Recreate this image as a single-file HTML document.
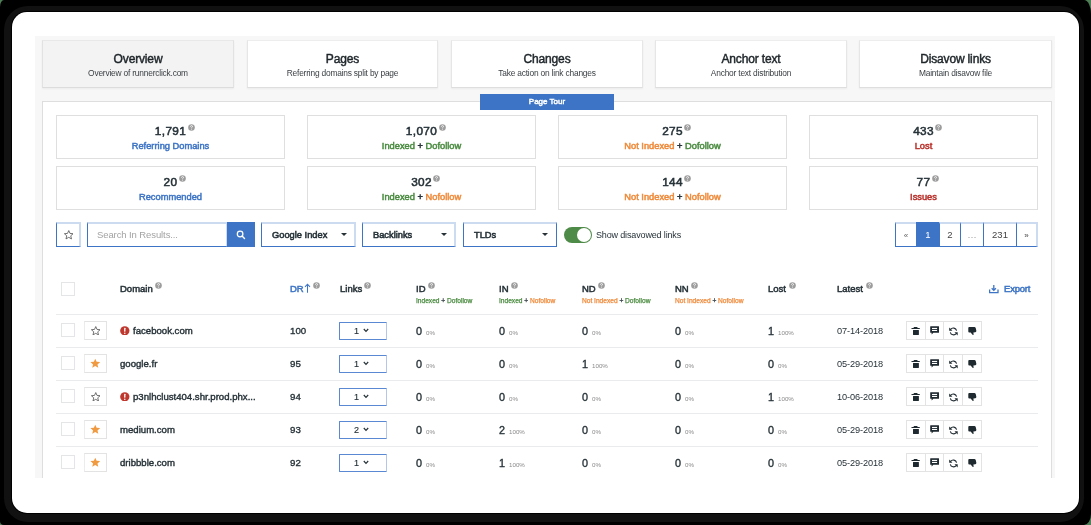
<!DOCTYPE html>
<html><head><meta charset="utf-8"><style>
*{box-sizing:border-box;margin:0;padding:0}
html,body{width:1091px;height:525px;overflow:hidden;background:#000;font-family:"Liberation Sans",sans-serif;color:#263238}
#green{position:absolute;left:0;top:0;width:1091px;height:525px;background:#4f7f57}
#outer{position:absolute;left:0;top:0;width:1091px;height:525px;background:#000;border-top-left-radius:4px 7px;border-top-right-radius:7px 14px;border-bottom-right-radius:7px 11px;border-bottom-left-radius:4px 4px}
#ring{position:absolute;left:4px;top:6px;width:1080px;height:516px;background:#111;border-radius:24px}
#blk{position:absolute;left:11px;top:11px;width:1069px;height:503px;background:#000;border-radius:16px}
#screen{position:absolute;left:12px;top:12px;width:1067px;height:501px;background:#fff;border-radius:15px}
#clip{position:absolute;left:0;top:0;width:1091px;height:525px;clip-path:inset(36px 36px 47px 35px);will-change:transform}
#panel{position:absolute;left:35px;top:36px;width:1020px;height:442px;background:#f7f7f7}
.tab{position:absolute;top:40px;height:48px;background:#fff;border:1px solid #e6e6e6;border-top-color:#ededed;border-bottom-color:#dedede;text-align:center;box-shadow:0 1px 2px rgba(0,0,0,0.05)}
.tab.active{background:#f3f3f3;border-color:#e2e2e2;border-top-color:#e8e8e8;border-bottom-color:#dcdcdc}
.tab b{display:block;font-size:12px;font-weight:normal;-webkit-text-stroke-width:0.45px;line-height:14px;margin-top:11px;letter-spacing:-0.15px;color:#1e2529}
.tab span{display:block;font-size:8.4px;line-height:11px;margin-top:1.5px;letter-spacing:-0.2px;color:#3a3f43}
#content{position:absolute;left:42px;top:101px;width:1010px;height:420px;background:#fff;border:1px solid #dedede}
#tour{position:absolute;left:480px;top:94px;width:134px;height:16px;background:#3d74c5;color:#fff;font-size:8px;font-weight:normal;-webkit-text-stroke-width:0.45px;text-align:center;line-height:16px;letter-spacing:0}
.card{position:absolute;width:229px;height:44px;border:1px solid #dfdfdf;background:#fff;text-align:center}
.card .n{position:absolute;left:0;right:0;top:8px;font-size:11.8px;font-weight:normal;-webkit-text-stroke-width:0.55px;line-height:14px;color:#263238;letter-spacing:0.35px}
.card .l{position:absolute;left:0;right:0;top:24px;font-size:9.3px;font-weight:normal;-webkit-text-stroke-width:0.5px;line-height:12px;letter-spacing:0}
.q{position:absolute;width:7px;height:7px}
.a{position:absolute;white-space:nowrap}
.bb{position:absolute;border:1px solid #3d74c5;border-top:2px solid #cddbf1;border-right:2px solid #cddbf1;background:#fff}
.sel{font-size:9.3px;font-weight:normal;-webkit-text-stroke-width:0.55px;line-height:22px;padding-left:10px;letter-spacing:0;color:#263238}
.caret{position:absolute;width:0;height:0;border-left:3px solid transparent;border-right:3px solid transparent;border-top:3px solid #263238}
.pg{position:absolute;top:222px;height:25px;text-align:center;font-size:9.5px;line-height:22px;color:#444;border-top:2px solid #cddbf1;border-bottom:1px solid #3d74c5;border-left:1px solid #3d74c5;background:#fff}
.hd{font-size:9.5px;font-weight:normal;-webkit-text-stroke-width:0.5px;line-height:11px;letter-spacing:0;color:#263238}
.sub{font-size:6.6px;line-height:8px;letter-spacing:0;-webkit-text-stroke-width:0.25px}
.hl{position:absolute;left:56px;width:982px;height:1px;background:#eaebec}
.cb{position:absolute;width:14px;height:14px;border:1px solid #e4e5e6;background:#fff}
.sb{position:absolute;width:23px;height:19px;border:1px solid #e3e3e3;border-left-color:#ececec;background:#fff}
.dom{font-size:9.6px;font-weight:normal;-webkit-text-stroke-width:0.4px;line-height:12px;letter-spacing:0;color:#263238}
.num{font-size:9.7px;font-weight:normal;-webkit-text-stroke-width:0.35px;line-height:12px;color:#263238}
.big{font-size:10.8px;font-weight:normal;-webkit-text-stroke-width:0.35px;line-height:12px;color:#263238}
.pct{font-size:6.2px;line-height:8px;color:#8a8a8a;-webkit-text-stroke-width:0}
.date{font-size:9.2px;line-height:12px;color:#263238;letter-spacing:-0.1px}
.lk{position:absolute;width:48px;height:18px;border:1px solid #5a88d2;border-right-color:#b3c7e9;border-radius:1px;background:#fff}
.act{position:absolute;height:19px;border:1px solid #e3e3e3;border-right:none;background:#fff}
.blue{color:#3d74c5}.grn{color:#4a8b40}.org{color:#ef8a3a}.red{color:#b9312b}.dk{color:#263238}
</style></head><body>
<div id="green"></div><div id="outer"></div><div id="ring"></div><div id="blk"></div><div id="screen"></div>
<div id="clip">
<div id="panel"></div>
<div class="tab active" style="left:42px;width:192px"><b>Overview</b><span>Overview of runnerclick.com</span></div>
<div class="tab" style="left:247px;width:191px"><b>Pages</b><span>Referring domains split by page</span></div>
<div class="tab" style="left:451px;width:192px"><b>Changes</b><span>Take action on link changes</span></div>
<div class="tab" style="left:655px;width:192px"><b>Anchor text</b><span>Anchor text distribution</span></div>
<div class="tab" style="left:859px;width:193px"><b>Disavow links</b><span>Maintain disavow file</span></div>
<div id="content"></div>
<div id="tour">Page Tour</div>
<div class="card" style="left:56px;top:115px"><div class="n"><span style="position:relative">1,791<i class="q" style="right:-8.6px;top:0px"><svg width="7" height="7" viewBox="0 0 7 7" style="display:block"><circle cx="3.5" cy="3.5" r="3.3" fill="#9d9d9d"/><path d="M2.5 2.7Q2.5 1.6 3.5 1.6Q4.5 1.6 4.5 2.5Q4.5 3.1 3.6 3.6V4.3" fill="none" stroke="#fff" stroke-width="0.8"/><circle cx="3.6" cy="5.3" r="0.45" fill="#fff"/></svg></i></span></div><div class="l"><span class="blue">Referring Domains</span></div></div>
<div class="card" style="left:307px;top:115px"><div class="n"><span style="position:relative">1,070<i class="q" style="right:-8.6px;top:0px"><svg width="7" height="7" viewBox="0 0 7 7" style="display:block"><circle cx="3.5" cy="3.5" r="3.3" fill="#9d9d9d"/><path d="M2.5 2.7Q2.5 1.6 3.5 1.6Q4.5 1.6 4.5 2.5Q4.5 3.1 3.6 3.6V4.3" fill="none" stroke="#fff" stroke-width="0.8"/><circle cx="3.6" cy="5.3" r="0.45" fill="#fff"/></svg></i></span></div><div class="l"><span class="grn">Indexed</span> <span class="dk">+</span> <span class="grn">Dofollow</span></div></div>
<div class="card" style="left:558px;top:115px"><div class="n"><span style="position:relative">275<i class="q" style="right:-8.6px;top:0px"><svg width="7" height="7" viewBox="0 0 7 7" style="display:block"><circle cx="3.5" cy="3.5" r="3.3" fill="#9d9d9d"/><path d="M2.5 2.7Q2.5 1.6 3.5 1.6Q4.5 1.6 4.5 2.5Q4.5 3.1 3.6 3.6V4.3" fill="none" stroke="#fff" stroke-width="0.8"/><circle cx="3.6" cy="5.3" r="0.45" fill="#fff"/></svg></i></span></div><div class="l"><span class="org">Not Indexed</span> <span class="dk">+</span> <span class="grn">Dofollow</span></div></div>
<div class="card" style="left:809px;top:115px"><div class="n"><span style="position:relative">433<i class="q" style="right:-8.6px;top:0px"><svg width="7" height="7" viewBox="0 0 7 7" style="display:block"><circle cx="3.5" cy="3.5" r="3.3" fill="#9d9d9d"/><path d="M2.5 2.7Q2.5 1.6 3.5 1.6Q4.5 1.6 4.5 2.5Q4.5 3.1 3.6 3.6V4.3" fill="none" stroke="#fff" stroke-width="0.8"/><circle cx="3.6" cy="5.3" r="0.45" fill="#fff"/></svg></i></span></div><div class="l"><span class="red">Lost</span></div></div>
<div class="card" style="left:56px;top:166px"><div class="n"><span style="position:relative">20<i class="q" style="right:-8.6px;top:0px"><svg width="7" height="7" viewBox="0 0 7 7" style="display:block"><circle cx="3.5" cy="3.5" r="3.3" fill="#9d9d9d"/><path d="M2.5 2.7Q2.5 1.6 3.5 1.6Q4.5 1.6 4.5 2.5Q4.5 3.1 3.6 3.6V4.3" fill="none" stroke="#fff" stroke-width="0.8"/><circle cx="3.6" cy="5.3" r="0.45" fill="#fff"/></svg></i></span></div><div class="l"><span class="blue">Recommended</span></div></div>
<div class="card" style="left:307px;top:166px"><div class="n"><span style="position:relative">302<i class="q" style="right:-8.6px;top:0px"><svg width="7" height="7" viewBox="0 0 7 7" style="display:block"><circle cx="3.5" cy="3.5" r="3.3" fill="#9d9d9d"/><path d="M2.5 2.7Q2.5 1.6 3.5 1.6Q4.5 1.6 4.5 2.5Q4.5 3.1 3.6 3.6V4.3" fill="none" stroke="#fff" stroke-width="0.8"/><circle cx="3.6" cy="5.3" r="0.45" fill="#fff"/></svg></i></span></div><div class="l"><span class="grn">Indexed</span> <span class="dk">+</span> <span class="org">Nofollow</span></div></div>
<div class="card" style="left:558px;top:166px"><div class="n"><span style="position:relative">144<i class="q" style="right:-8.6px;top:0px"><svg width="7" height="7" viewBox="0 0 7 7" style="display:block"><circle cx="3.5" cy="3.5" r="3.3" fill="#9d9d9d"/><path d="M2.5 2.7Q2.5 1.6 3.5 1.6Q4.5 1.6 4.5 2.5Q4.5 3.1 3.6 3.6V4.3" fill="none" stroke="#fff" stroke-width="0.8"/><circle cx="3.6" cy="5.3" r="0.45" fill="#fff"/></svg></i></span></div><div class="l"><span class="org">Not Indexed</span> <span class="dk">+</span> <span class="org">Nofollow</span></div></div>
<div class="card" style="left:809px;top:166px"><div class="n"><span style="position:relative">77<i class="q" style="right:-8.6px;top:0px"><svg width="7" height="7" viewBox="0 0 7 7" style="display:block"><circle cx="3.5" cy="3.5" r="3.3" fill="#9d9d9d"/><path d="M2.5 2.7Q2.5 1.6 3.5 1.6Q4.5 1.6 4.5 2.5Q4.5 3.1 3.6 3.6V4.3" fill="none" stroke="#fff" stroke-width="0.8"/><circle cx="3.6" cy="5.3" r="0.45" fill="#fff"/></svg></i></span></div><div class="l"><span class="red">Issues</span></div></div>
<div class="bb" style="left:56px;top:222px;width:25px;height:25px"></div>
<svg class="a" style="left:63.5px;top:230px" width="9.5" height="9.5" viewBox="0 0 10 10"><polygon points="5,0.6 6.3,3.6 9.6,3.9 7.1,6.1 7.9,9.4 5,7.7 2.1,9.4 2.9,6.1 0.4,3.9 3.7,3.6" fill="none" stroke="#5a5a5a" stroke-width="0.9" stroke-linejoin="round"/></svg>
<div class="bb" style="left:87px;top:222px;width:141px;height:25px"></div>
<div class="a" style="left:97px;top:229px;font-size:9.5px;line-height:12px;color:#a3a3a3;letter-spacing:-0.1px">Search In Results...</div>
<div class="a" style="left:227px;top:222px;width:28px;height:25px;background:#3d74c5"></div>
<svg class="a" style="left:236px;top:230px" width="10" height="10" viewBox="0 0 10 10"><circle cx="4.1" cy="4" r="2.8" fill="none" stroke="#fff" stroke-width="1.25"/><line x1="6.1" y1="6" x2="8.5" y2="8.4" stroke="#fff" stroke-width="1.4" stroke-linecap="round"/></svg>
<div class="bb sel" style="left:261px;top:222px;width:95px;height:25px;">Google Index</div>
<div class="caret" style="left:341px;top:233px"></div>
<div class="bb sel" style="left:362px;top:222px;width:94px;height:25px;">Backlinks</div>
<div class="caret" style="left:441px;top:233px"></div>
<div class="bb sel" style="left:463px;top:222px;width:94px;height:25px;border-right:1px solid #3d74c5;">TLDs</div>
<div class="caret" style="left:542px;top:233px"></div>
<div class="a" style="left:564px;top:227px;width:28px;height:16px;border-radius:8px;background:#4e8a48"></div>
<div class="a" style="left:577px;top:228px;width:14px;height:14px;border-radius:50%;background:#fff"></div>
<div class="a" style="left:596px;top:229px;font-size:9px;line-height:12px;letter-spacing:-0.15px;color:#263238">Show disavowed links</div>
<div class="pg" style="left:895px;width:21px;"><span style="font-size:8px;color:#666">&laquo;</span></div>
<div class="pg" style="left:916px;width:23px;background:#3d74c5;color:#fff;border-top-color:#3d74c5;">1</div>
<div class="pg" style="left:939px;width:21px;">2</div>
<div class="pg" style="left:960px;width:23px;"><span style="color:#999">&hellip;</span></div>
<div class="pg" style="left:983px;width:33px;">231</div>
<div class="pg" style="left:1016px;width:22px;border-right:2px solid #cddbf1;"><span style="font-size:8px;color:#444">&raquo;</span></div>
<div class="cb" style="left:61px;top:282px"></div>
<div class="a hd" style="left:120px;top:283px">Domain</div><i class="q" style="left:155px;top:281.5px"><svg width="7" height="7" viewBox="0 0 7 7" style="display:block"><circle cx="3.5" cy="3.5" r="3.3" fill="#9d9d9d"/><path d="M2.5 2.7Q2.5 1.6 3.5 1.6Q4.5 1.6 4.5 2.5Q4.5 3.1 3.6 3.6V4.3" fill="none" stroke="#fff" stroke-width="0.8"/><circle cx="3.6" cy="5.3" r="0.45" fill="#fff"/></svg></i>
<div class="a hd blue" style="left:290px;top:283px">DR</div>
<svg class="a" style="left:304px;top:283px" width="7" height="10" viewBox="0 0 7 10"><path d="M3.5 9.7V1.4M1 3.9L3.5 1.2L6 3.9" fill="none" stroke="#3d74c5" stroke-width="1.05"/></svg><i class="q" style="left:313px;top:281.5px"><svg width="7" height="7" viewBox="0 0 7 7" style="display:block"><circle cx="3.5" cy="3.5" r="3.3" fill="#9d9d9d"/><path d="M2.5 2.7Q2.5 1.6 3.5 1.6Q4.5 1.6 4.5 2.5Q4.5 3.1 3.6 3.6V4.3" fill="none" stroke="#fff" stroke-width="0.8"/><circle cx="3.6" cy="5.3" r="0.45" fill="#fff"/></svg></i>
<div class="a hd" style="left:340px;top:283px">Links</div><i class="q" style="left:364.3px;top:281.5px"><svg width="7" height="7" viewBox="0 0 7 7" style="display:block"><circle cx="3.5" cy="3.5" r="3.3" fill="#9d9d9d"/><path d="M2.5 2.7Q2.5 1.6 3.5 1.6Q4.5 1.6 4.5 2.5Q4.5 3.1 3.6 3.6V4.3" fill="none" stroke="#fff" stroke-width="0.8"/><circle cx="3.6" cy="5.3" r="0.45" fill="#fff"/></svg></i>
<div class="a hd" style="left:416px;top:283px">ID<i class="q" style="position:relative;display:inline-block;left:2.5px;top:-3.5px"><svg width="7" height="7" viewBox="0 0 7 7" style="display:block"><circle cx="3.5" cy="3.5" r="3.3" fill="#9d9d9d"/><path d="M2.5 2.7Q2.5 1.6 3.5 1.6Q4.5 1.6 4.5 2.5Q4.5 3.1 3.6 3.6V4.3" fill="none" stroke="#fff" stroke-width="0.8"/><circle cx="3.6" cy="5.3" r="0.45" fill="#fff"/></svg></i></div>
<div class="a sub" style="left:416px;top:296.5px"><span class="grn">Indexed</span> <span class="dk">+</span> <span class="grn">Dofollow</span></div>
<div class="a hd" style="left:499px;top:283px">IN<i class="q" style="position:relative;display:inline-block;left:2.5px;top:-3.5px"><svg width="7" height="7" viewBox="0 0 7 7" style="display:block"><circle cx="3.5" cy="3.5" r="3.3" fill="#9d9d9d"/><path d="M2.5 2.7Q2.5 1.6 3.5 1.6Q4.5 1.6 4.5 2.5Q4.5 3.1 3.6 3.6V4.3" fill="none" stroke="#fff" stroke-width="0.8"/><circle cx="3.6" cy="5.3" r="0.45" fill="#fff"/></svg></i></div>
<div class="a sub" style="left:499px;top:296.5px"><span class="grn">Indexed</span> <span class="dk">+</span> <span class="org">Nofollow</span></div>
<div class="a hd" style="left:582px;top:283px">ND<i class="q" style="position:relative;display:inline-block;left:2.5px;top:-3.5px"><svg width="7" height="7" viewBox="0 0 7 7" style="display:block"><circle cx="3.5" cy="3.5" r="3.3" fill="#9d9d9d"/><path d="M2.5 2.7Q2.5 1.6 3.5 1.6Q4.5 1.6 4.5 2.5Q4.5 3.1 3.6 3.6V4.3" fill="none" stroke="#fff" stroke-width="0.8"/><circle cx="3.6" cy="5.3" r="0.45" fill="#fff"/></svg></i></div>
<div class="a sub" style="left:582px;top:296.5px"><span class="org">Not Indexed</span> <span class="dk">+</span> <span class="grn">Dofollow</span></div>
<div class="a hd" style="left:675px;top:283px">NN<i class="q" style="position:relative;display:inline-block;left:2.5px;top:-3.5px"><svg width="7" height="7" viewBox="0 0 7 7" style="display:block"><circle cx="3.5" cy="3.5" r="3.3" fill="#9d9d9d"/><path d="M2.5 2.7Q2.5 1.6 3.5 1.6Q4.5 1.6 4.5 2.5Q4.5 3.1 3.6 3.6V4.3" fill="none" stroke="#fff" stroke-width="0.8"/><circle cx="3.6" cy="5.3" r="0.45" fill="#fff"/></svg></i></div>
<div class="a sub" style="left:675px;top:296.5px"><span class="org">Not Indexed</span> <span class="dk">+</span> <span class="org">Nofollow</span></div>
<div class="a hd" style="left:768px;top:283px">Lost</div><i class="q" style="left:788.7px;top:281.5px"><svg width="7" height="7" viewBox="0 0 7 7" style="display:block"><circle cx="3.5" cy="3.5" r="3.3" fill="#9d9d9d"/><path d="M2.5 2.7Q2.5 1.6 3.5 1.6Q4.5 1.6 4.5 2.5Q4.5 3.1 3.6 3.6V4.3" fill="none" stroke="#fff" stroke-width="0.8"/><circle cx="3.6" cy="5.3" r="0.45" fill="#fff"/></svg></i>
<div class="a hd" style="left:837px;top:283px">Latest</div><i class="q" style="left:866px;top:281.5px"><svg width="7" height="7" viewBox="0 0 7 7" style="display:block"><circle cx="3.5" cy="3.5" r="3.3" fill="#9d9d9d"/><path d="M2.5 2.7Q2.5 1.6 3.5 1.6Q4.5 1.6 4.5 2.5Q4.5 3.1 3.6 3.6V4.3" fill="none" stroke="#fff" stroke-width="0.8"/><circle cx="3.6" cy="5.3" r="0.45" fill="#fff"/></svg></i>
<svg class="a" style="left:988.5px;top:285px" width="10" height="8.5" viewBox="0 0 10 8.5"><path d="M4.8 0V5.3M2.7 3.2L4.8 5.4L6.9 3.2" fill="none" stroke="#3d74c5" stroke-width="1.3"/><path d="M0.6 4.6V7.7H9V4.6" fill="none" stroke="#3d74c5" stroke-width="1.3"/></svg>
<div class="a hd blue" style="left:1004px;top:283px;letter-spacing:-0.2px;-webkit-text-stroke-width:0.5px">Export</div>
<div class="hl" style="top:314px"></div>
<div class="cb" style="left:61px;top:323px"></div>
<div class="sb" style="left:84px;top:321px"></div>
<svg class="a" style="left:90.5px;top:325.5px" width="9.5" height="9.5" viewBox="0 0 10 10"><polygon points="5,0.6 6.3,3.6 9.6,3.9 7.1,6.1 7.9,9.4 5,7.7 2.1,9.4 2.9,6.1 0.4,3.9 3.7,3.6" fill="none" stroke="#5a5a5a" stroke-width="0.9" stroke-linejoin="round"/></svg>
<svg class="a" style="left:120px;top:325.5px" width="9.6" height="9.6" viewBox="0 0 10 10"><circle cx="5" cy="5" r="4.85" fill="#c0372e"/><rect x="4.3" y="1.9" width="1.4" height="4.2" rx="0.5" fill="#fff"/><circle cx="5" cy="7.6" r="0.8" fill="#fff"/></svg>
<div class="a dom" style="left:133px;top:325px">facebook.com</div>
<div class="a num" style="left:290px;top:325px">100</div>
<div class="lk" style="left:339px;top:322px"></div>
<div class="a num" style="left:354px;top:325px;font-size:9px;-webkit-text-stroke-width:0.15px">1</div>
<svg class="a" style="left:363px;top:328px" width="6" height="5" viewBox="0 0 6 5"><path d="M0.8 1L3 3.3L5.2 1" fill="none" stroke="#263238" stroke-width="1.2"/></svg>
<div class="a big" style="left:416px;top:325px">0<span class="pct" style="margin-left:4px">0%</span></div>
<div class="a big" style="left:499px;top:325px">0<span class="pct" style="margin-left:4px">0%</span></div>
<div class="a big" style="left:582px;top:325px">0<span class="pct" style="margin-left:4px">0%</span></div>
<div class="a big" style="left:675px;top:325px">0<span class="pct" style="margin-left:4px">0%</span></div>
<div class="a big" style="left:768px;top:325px">1<span class="pct" style="margin-left:4px">100%</span></div>
<div class="a date" style="left:837px;top:325px">07-14-2018</div>
<div class="act" style="left:906px;top:321px;width:19px;"></div>
<div class="act" style="left:925px;top:321px;width:18px;"></div>
<div class="act" style="left:943px;top:321px;width:19px;"></div>
<div class="act" style="left:962px;top:321px;width:20px;border-right:1px solid #e3e3e3;"></div>
<svg class="a" style="left:911px;top:326px" width="10" height="10" viewBox="0 0 10 10"><rect x="0.4" y="1.9" width="8.5" height="1.1" rx="0.5" fill="#1f2a30"/><rect x="2.6" y="1.1" width="4" height="1.2" rx="0.6" fill="#1f2a30"/><rect x="2" y="4" width="5.9" height="4.9" rx="0.3" fill="#1f2a30"/></svg>
<svg class="a" style="left:930px;top:326px" width="10" height="10" viewBox="0 0 10 10"><path d="M0.2 0.6Q0.2 0.2 0.6 0.2H8.6Q9 0.2 9 0.6V6.4Q9 6.8 8.6 6.8H3.4L1.6 8.6V6.8H0.6Q0.2 6.8 0.2 6.4Z" fill="#1f2a30"/><rect x="2" y="1.9" width="5.1" height="1.1" fill="#fff"/><rect x="2" y="3.9" width="5.1" height="1.1" fill="#fff"/></svg>
<svg class="a" style="left:949px;top:326.5px" width="9" height="9" viewBox="0 0 9 9"><path d="M7.6 3.6A3.4 3.4 0 0 0 1.6 2.4" fill="none" stroke="#1f2a30" stroke-width="1.1"/><path d="M1.3 5.3A3.4 3.4 0 0 0 7.3 6.5" fill="none" stroke="#1f2a30" stroke-width="1.1"/><path d="M0.2 0.4V3.8H3.4Z" fill="#1f2a30"/><path d="M8.7 8.6V5.2H5.5Z" fill="#1f2a30"/></svg>
<svg class="a" style="left:968px;top:327px" width="9" height="9" viewBox="0 0 9 9"><path d="M0.3 1Q0.3 0.1 1.2 0.1H6.4Q7.4 0.1 7.8 1.2L8.3 3.4Q8.6 4.8 7.3 5.2L5.4 5.4L5.6 7.4Q5.6 8.2 4.8 7.9L2.6 5.6H1.2Q0.3 5.6 0.3 4.6Z" fill="#1f2a30"/></svg>
<div class="hl" style="top:347px"></div>
<div class="cb" style="left:61px;top:356px"></div>
<div class="sb" style="left:84px;top:354px"></div>
<svg class="a" style="left:89.7px;top:358px" width="10.5" height="10.5" viewBox="0 0 10 10"><polygon points="5,0.6 6.3,3.6 9.6,3.9 7.1,6.1 7.9,9.4 5,7.7 2.1,9.4 2.9,6.1 0.4,3.9 3.7,3.6" fill="#f09a42"/></svg>
<div class="a dom" style="left:120px;top:358px">google.fr</div>
<div class="a num" style="left:290px;top:358px">95</div>
<div class="lk" style="left:339px;top:355px"></div>
<div class="a num" style="left:354px;top:358px;font-size:9px;-webkit-text-stroke-width:0.15px">1</div>
<svg class="a" style="left:363px;top:361px" width="6" height="5" viewBox="0 0 6 5"><path d="M0.8 1L3 3.3L5.2 1" fill="none" stroke="#263238" stroke-width="1.2"/></svg>
<div class="a big" style="left:416px;top:358px">0<span class="pct" style="margin-left:4px">0%</span></div>
<div class="a big" style="left:499px;top:358px">0<span class="pct" style="margin-left:4px">0%</span></div>
<div class="a big" style="left:582px;top:358px">1<span class="pct" style="margin-left:4px">100%</span></div>
<div class="a big" style="left:675px;top:358px">0<span class="pct" style="margin-left:4px">0%</span></div>
<div class="a big" style="left:768px;top:358px">0<span class="pct" style="margin-left:4px">0%</span></div>
<div class="a date" style="left:837px;top:358px">05-29-2018</div>
<div class="act" style="left:906px;top:354px;width:19px;"></div>
<div class="act" style="left:925px;top:354px;width:18px;"></div>
<div class="act" style="left:943px;top:354px;width:19px;"></div>
<div class="act" style="left:962px;top:354px;width:20px;border-right:1px solid #e3e3e3;"></div>
<svg class="a" style="left:911px;top:359px" width="10" height="10" viewBox="0 0 10 10"><rect x="0.4" y="1.9" width="8.5" height="1.1" rx="0.5" fill="#1f2a30"/><rect x="2.6" y="1.1" width="4" height="1.2" rx="0.6" fill="#1f2a30"/><rect x="2" y="4" width="5.9" height="4.9" rx="0.3" fill="#1f2a30"/></svg>
<svg class="a" style="left:930px;top:359px" width="10" height="10" viewBox="0 0 10 10"><path d="M0.2 0.6Q0.2 0.2 0.6 0.2H8.6Q9 0.2 9 0.6V6.4Q9 6.8 8.6 6.8H3.4L1.6 8.6V6.8H0.6Q0.2 6.8 0.2 6.4Z" fill="#1f2a30"/><rect x="2" y="1.9" width="5.1" height="1.1" fill="#fff"/><rect x="2" y="3.9" width="5.1" height="1.1" fill="#fff"/></svg>
<svg class="a" style="left:949px;top:359.5px" width="9" height="9" viewBox="0 0 9 9"><path d="M7.6 3.6A3.4 3.4 0 0 0 1.6 2.4" fill="none" stroke="#1f2a30" stroke-width="1.1"/><path d="M1.3 5.3A3.4 3.4 0 0 0 7.3 6.5" fill="none" stroke="#1f2a30" stroke-width="1.1"/><path d="M0.2 0.4V3.8H3.4Z" fill="#1f2a30"/><path d="M8.7 8.6V5.2H5.5Z" fill="#1f2a30"/></svg>
<svg class="a" style="left:968px;top:360px" width="9" height="9" viewBox="0 0 9 9"><path d="M0.3 1Q0.3 0.1 1.2 0.1H6.4Q7.4 0.1 7.8 1.2L8.3 3.4Q8.6 4.8 7.3 5.2L5.4 5.4L5.6 7.4Q5.6 8.2 4.8 7.9L2.6 5.6H1.2Q0.3 5.6 0.3 4.6Z" fill="#1f2a30"/></svg>
<div class="hl" style="top:380px"></div>
<div class="cb" style="left:61px;top:389px"></div>
<div class="sb" style="left:84px;top:387px"></div>
<svg class="a" style="left:90.5px;top:391.5px" width="9.5" height="9.5" viewBox="0 0 10 10"><polygon points="5,0.6 6.3,3.6 9.6,3.9 7.1,6.1 7.9,9.4 5,7.7 2.1,9.4 2.9,6.1 0.4,3.9 3.7,3.6" fill="none" stroke="#5a5a5a" stroke-width="0.9" stroke-linejoin="round"/></svg>
<svg class="a" style="left:120px;top:391.5px" width="9.6" height="9.6" viewBox="0 0 10 10"><circle cx="5" cy="5" r="4.85" fill="#c0372e"/><rect x="4.3" y="1.9" width="1.4" height="4.2" rx="0.5" fill="#fff"/><circle cx="5" cy="7.6" r="0.8" fill="#fff"/></svg>
<div class="a dom" style="left:133px;top:391px">p3nlhclust404.shr.prod.phx...</div>
<div class="a num" style="left:290px;top:391px">94</div>
<div class="lk" style="left:339px;top:388px"></div>
<div class="a num" style="left:354px;top:391px;font-size:9px;-webkit-text-stroke-width:0.15px">1</div>
<svg class="a" style="left:363px;top:394px" width="6" height="5" viewBox="0 0 6 5"><path d="M0.8 1L3 3.3L5.2 1" fill="none" stroke="#263238" stroke-width="1.2"/></svg>
<div class="a big" style="left:416px;top:391px">0<span class="pct" style="margin-left:4px">0%</span></div>
<div class="a big" style="left:499px;top:391px">0<span class="pct" style="margin-left:4px">0%</span></div>
<div class="a big" style="left:582px;top:391px">0<span class="pct" style="margin-left:4px">0%</span></div>
<div class="a big" style="left:675px;top:391px">0<span class="pct" style="margin-left:4px">0%</span></div>
<div class="a big" style="left:768px;top:391px">1<span class="pct" style="margin-left:4px">100%</span></div>
<div class="a date" style="left:837px;top:391px">10-06-2018</div>
<div class="act" style="left:906px;top:387px;width:19px;"></div>
<div class="act" style="left:925px;top:387px;width:18px;"></div>
<div class="act" style="left:943px;top:387px;width:19px;"></div>
<div class="act" style="left:962px;top:387px;width:20px;border-right:1px solid #e3e3e3;"></div>
<svg class="a" style="left:911px;top:392px" width="10" height="10" viewBox="0 0 10 10"><rect x="0.4" y="1.9" width="8.5" height="1.1" rx="0.5" fill="#1f2a30"/><rect x="2.6" y="1.1" width="4" height="1.2" rx="0.6" fill="#1f2a30"/><rect x="2" y="4" width="5.9" height="4.9" rx="0.3" fill="#1f2a30"/></svg>
<svg class="a" style="left:930px;top:392px" width="10" height="10" viewBox="0 0 10 10"><path d="M0.2 0.6Q0.2 0.2 0.6 0.2H8.6Q9 0.2 9 0.6V6.4Q9 6.8 8.6 6.8H3.4L1.6 8.6V6.8H0.6Q0.2 6.8 0.2 6.4Z" fill="#1f2a30"/><rect x="2" y="1.9" width="5.1" height="1.1" fill="#fff"/><rect x="2" y="3.9" width="5.1" height="1.1" fill="#fff"/></svg>
<svg class="a" style="left:949px;top:392.5px" width="9" height="9" viewBox="0 0 9 9"><path d="M7.6 3.6A3.4 3.4 0 0 0 1.6 2.4" fill="none" stroke="#1f2a30" stroke-width="1.1"/><path d="M1.3 5.3A3.4 3.4 0 0 0 7.3 6.5" fill="none" stroke="#1f2a30" stroke-width="1.1"/><path d="M0.2 0.4V3.8H3.4Z" fill="#1f2a30"/><path d="M8.7 8.6V5.2H5.5Z" fill="#1f2a30"/></svg>
<svg class="a" style="left:968px;top:393px" width="9" height="9" viewBox="0 0 9 9"><path d="M0.3 1Q0.3 0.1 1.2 0.1H6.4Q7.4 0.1 7.8 1.2L8.3 3.4Q8.6 4.8 7.3 5.2L5.4 5.4L5.6 7.4Q5.6 8.2 4.8 7.9L2.6 5.6H1.2Q0.3 5.6 0.3 4.6Z" fill="#1f2a30"/></svg>
<div class="hl" style="top:413px"></div>
<div class="cb" style="left:61px;top:422px"></div>
<div class="sb" style="left:84px;top:420px"></div>
<svg class="a" style="left:89.7px;top:424px" width="10.5" height="10.5" viewBox="0 0 10 10"><polygon points="5,0.6 6.3,3.6 9.6,3.9 7.1,6.1 7.9,9.4 5,7.7 2.1,9.4 2.9,6.1 0.4,3.9 3.7,3.6" fill="#f09a42"/></svg>
<div class="a dom" style="left:120px;top:424px">medium.com</div>
<div class="a num" style="left:290px;top:424px">93</div>
<div class="lk" style="left:339px;top:421px"></div>
<div class="a num" style="left:354px;top:424px;font-size:9px;-webkit-text-stroke-width:0.15px">2</div>
<svg class="a" style="left:363px;top:427px" width="6" height="5" viewBox="0 0 6 5"><path d="M0.8 1L3 3.3L5.2 1" fill="none" stroke="#263238" stroke-width="1.2"/></svg>
<div class="a big" style="left:416px;top:424px">0<span class="pct" style="margin-left:4px">0%</span></div>
<div class="a big" style="left:499px;top:424px">2<span class="pct" style="margin-left:4px">100%</span></div>
<div class="a big" style="left:582px;top:424px">0<span class="pct" style="margin-left:4px">0%</span></div>
<div class="a big" style="left:675px;top:424px">0<span class="pct" style="margin-left:4px">0%</span></div>
<div class="a big" style="left:768px;top:424px">0<span class="pct" style="margin-left:4px">0%</span></div>
<div class="a date" style="left:837px;top:424px">05-29-2018</div>
<div class="act" style="left:906px;top:420px;width:19px;"></div>
<div class="act" style="left:925px;top:420px;width:18px;"></div>
<div class="act" style="left:943px;top:420px;width:19px;"></div>
<div class="act" style="left:962px;top:420px;width:20px;border-right:1px solid #e3e3e3;"></div>
<svg class="a" style="left:911px;top:425px" width="10" height="10" viewBox="0 0 10 10"><rect x="0.4" y="1.9" width="8.5" height="1.1" rx="0.5" fill="#1f2a30"/><rect x="2.6" y="1.1" width="4" height="1.2" rx="0.6" fill="#1f2a30"/><rect x="2" y="4" width="5.9" height="4.9" rx="0.3" fill="#1f2a30"/></svg>
<svg class="a" style="left:930px;top:425px" width="10" height="10" viewBox="0 0 10 10"><path d="M0.2 0.6Q0.2 0.2 0.6 0.2H8.6Q9 0.2 9 0.6V6.4Q9 6.8 8.6 6.8H3.4L1.6 8.6V6.8H0.6Q0.2 6.8 0.2 6.4Z" fill="#1f2a30"/><rect x="2" y="1.9" width="5.1" height="1.1" fill="#fff"/><rect x="2" y="3.9" width="5.1" height="1.1" fill="#fff"/></svg>
<svg class="a" style="left:949px;top:425.5px" width="9" height="9" viewBox="0 0 9 9"><path d="M7.6 3.6A3.4 3.4 0 0 0 1.6 2.4" fill="none" stroke="#1f2a30" stroke-width="1.1"/><path d="M1.3 5.3A3.4 3.4 0 0 0 7.3 6.5" fill="none" stroke="#1f2a30" stroke-width="1.1"/><path d="M0.2 0.4V3.8H3.4Z" fill="#1f2a30"/><path d="M8.7 8.6V5.2H5.5Z" fill="#1f2a30"/></svg>
<svg class="a" style="left:968px;top:426px" width="9" height="9" viewBox="0 0 9 9"><path d="M0.3 1Q0.3 0.1 1.2 0.1H6.4Q7.4 0.1 7.8 1.2L8.3 3.4Q8.6 4.8 7.3 5.2L5.4 5.4L5.6 7.4Q5.6 8.2 4.8 7.9L2.6 5.6H1.2Q0.3 5.6 0.3 4.6Z" fill="#1f2a30"/></svg>
<div class="hl" style="top:446px"></div>
<div class="cb" style="left:61px;top:455px"></div>
<div class="sb" style="left:84px;top:453px"></div>
<svg class="a" style="left:89.7px;top:457px" width="10.5" height="10.5" viewBox="0 0 10 10"><polygon points="5,0.6 6.3,3.6 9.6,3.9 7.1,6.1 7.9,9.4 5,7.7 2.1,9.4 2.9,6.1 0.4,3.9 3.7,3.6" fill="#f09a42"/></svg>
<div class="a dom" style="left:120px;top:457px">dribbble.com</div>
<div class="a num" style="left:290px;top:457px">92</div>
<div class="lk" style="left:339px;top:454px"></div>
<div class="a num" style="left:354px;top:457px;font-size:9px;-webkit-text-stroke-width:0.15px">1</div>
<svg class="a" style="left:363px;top:460px" width="6" height="5" viewBox="0 0 6 5"><path d="M0.8 1L3 3.3L5.2 1" fill="none" stroke="#263238" stroke-width="1.2"/></svg>
<div class="a big" style="left:416px;top:457px">0<span class="pct" style="margin-left:4px">0%</span></div>
<div class="a big" style="left:499px;top:457px">1<span class="pct" style="margin-left:4px">100%</span></div>
<div class="a big" style="left:582px;top:457px">0<span class="pct" style="margin-left:4px">0%</span></div>
<div class="a big" style="left:675px;top:457px">0<span class="pct" style="margin-left:4px">0%</span></div>
<div class="a big" style="left:768px;top:457px">0<span class="pct" style="margin-left:4px">0%</span></div>
<div class="a date" style="left:837px;top:457px">05-29-2018</div>
<div class="act" style="left:906px;top:453px;width:19px;"></div>
<div class="act" style="left:925px;top:453px;width:18px;"></div>
<div class="act" style="left:943px;top:453px;width:19px;"></div>
<div class="act" style="left:962px;top:453px;width:20px;border-right:1px solid #e3e3e3;"></div>
<svg class="a" style="left:911px;top:458px" width="10" height="10" viewBox="0 0 10 10"><rect x="0.4" y="1.9" width="8.5" height="1.1" rx="0.5" fill="#1f2a30"/><rect x="2.6" y="1.1" width="4" height="1.2" rx="0.6" fill="#1f2a30"/><rect x="2" y="4" width="5.9" height="4.9" rx="0.3" fill="#1f2a30"/></svg>
<svg class="a" style="left:930px;top:458px" width="10" height="10" viewBox="0 0 10 10"><path d="M0.2 0.6Q0.2 0.2 0.6 0.2H8.6Q9 0.2 9 0.6V6.4Q9 6.8 8.6 6.8H3.4L1.6 8.6V6.8H0.6Q0.2 6.8 0.2 6.4Z" fill="#1f2a30"/><rect x="2" y="1.9" width="5.1" height="1.1" fill="#fff"/><rect x="2" y="3.9" width="5.1" height="1.1" fill="#fff"/></svg>
<svg class="a" style="left:949px;top:458.5px" width="9" height="9" viewBox="0 0 9 9"><path d="M7.6 3.6A3.4 3.4 0 0 0 1.6 2.4" fill="none" stroke="#1f2a30" stroke-width="1.1"/><path d="M1.3 5.3A3.4 3.4 0 0 0 7.3 6.5" fill="none" stroke="#1f2a30" stroke-width="1.1"/><path d="M0.2 0.4V3.8H3.4Z" fill="#1f2a30"/><path d="M8.7 8.6V5.2H5.5Z" fill="#1f2a30"/></svg>
<svg class="a" style="left:968px;top:459px" width="9" height="9" viewBox="0 0 9 9"><path d="M0.3 1Q0.3 0.1 1.2 0.1H6.4Q7.4 0.1 7.8 1.2L8.3 3.4Q8.6 4.8 7.3 5.2L5.4 5.4L5.6 7.4Q5.6 8.2 4.8 7.9L2.6 5.6H1.2Q0.3 5.6 0.3 4.6Z" fill="#1f2a30"/></svg>
</div>
</body></html>
